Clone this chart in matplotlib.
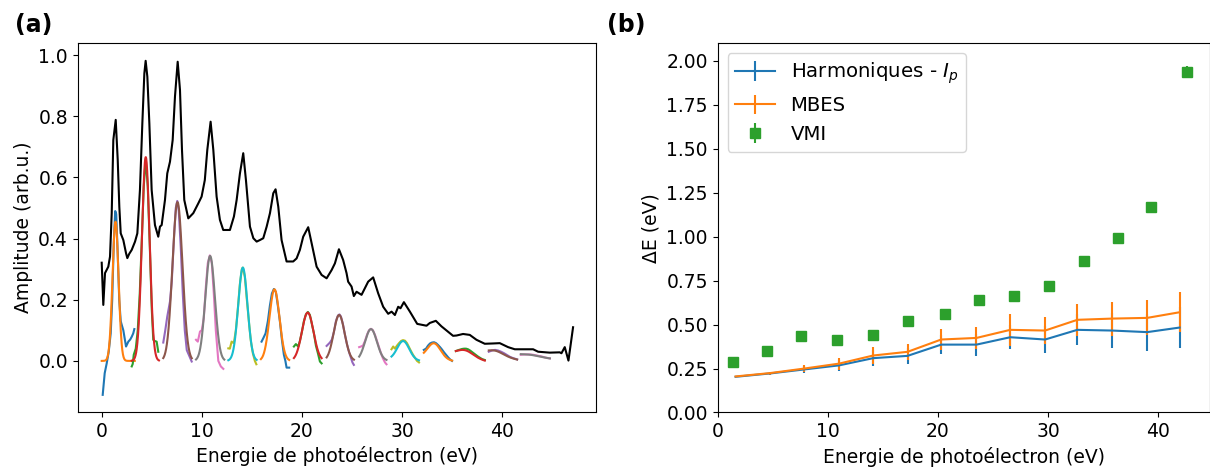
import numpy as np
import matplotlib.pyplot as plt

plt.rcParams["font.size"] = 13.5

# ---------------- (a) full spectrum ----------------
spec_e = [0.0, 0.16, 0.33, 0.66, 0.83, 1.0, 1.16, 1.40, 1.6, 1.76,
          1.9, 2.16, 2.43, 2.56, 2.75, 3.0, 3.33, 3.56, 3.82, 4.06,
          4.26, 4.39, 4.56, 4.76, 4.99, 5.32, 5.65, 5.82, 5.99, 6.32,
          6.55, 6.82, 7.09, 7.32, 7.59, 7.82, 8.02, 8.25, 8.65, 9.15,
          9.65, 9.98, 10.3, 10.55, 10.88, 11.15, 11.48, 11.81, 12.14, 12.81,
          13.21, 13.48, 13.81, 14.14, 14.41, 14.81, 15.15, 15.48, 15.8, 16.14,
          16.48, 16.81, 17.14, 17.37, 17.64, 17.97, 18.47, 19.13, 19.47, 19.8,
          20.13, 20.63, 20.97, 21.47, 21.97, 22.47, 22.97, 23.3, 23.7, 24.12,
          24.46, 24.62, 24.96, 25.19, 25.46, 25.96, 26.62, 27.12, 27.62, 28.12,
          28.62, 28.96, 29.29, 29.62, 29.85, 30.19, 30.79, 31.52, 32.45, 32.78,
          33.38, 33.94, 35.1, 35.45, 36.1, 36.77, 37.44, 38.27, 39.1, 39.77,
          40.6, 41.27, 43.1, 43.6, 44.76, 45.76, 45.93, 46.26, 46.63, 47.09]
spec_a = [0.321, 0.183, 0.287, 0.308, 0.341, 0.483, 0.722, 0.788, 0.657, 0.504,
          0.417, 0.395, 0.352, 0.336, 0.35, 0.363, 0.39, 0.417, 0.559, 0.777,
          0.94, 0.981, 0.929, 0.777, 0.559, 0.444, 0.406, 0.439, 0.444, 0.526,
          0.613, 0.651, 0.722, 0.864, 0.978, 0.886, 0.69, 0.526, 0.466, 0.483,
          0.515, 0.537, 0.591, 0.69, 0.782, 0.69, 0.537, 0.461, 0.428, 0.428,
          0.472, 0.526, 0.613, 0.679, 0.591, 0.439, 0.401, 0.39, 0.395, 0.401,
          0.439, 0.483, 0.548, 0.561, 0.504, 0.395, 0.325, 0.325, 0.335, 0.363,
          0.406, 0.437, 0.385, 0.308, 0.281, 0.27, 0.297, 0.319, 0.365, 0.33,
          0.287, 0.259, 0.243, 0.212, 0.226, 0.216, 0.259, 0.273, 0.221, 0.177,
          0.154, 0.161, 0.150, 0.177, 0.172, 0.192, 0.161, 0.121, 0.115, 0.124,
          0.131, 0.113, 0.082, 0.083, 0.088, 0.085, 0.069, 0.056, 0.057, 0.058,
          0.045, 0.038, 0.038, 0.030, 0.027, 0.028, 0.025, 0.045, 0.001, 0.110]

# background-subtracted harmonic peaks (one list per harmonic)
peak_e = [
    [0.1, 0.3, 0.5, 0.7, 0.9, 1.05, 1.2, 1.35, 1.45, 1.6, 1.75, 1.9, 2.0, 2.16, 2.43, 2.66, 2.85, 3.0, 3.15, 3.26],
    [3.0, 3.1, 3.2, 3.4, 3.6, 3.8, 4.0, 4.2, 4.4, 4.6, 4.8, 5.0, 5.15, 5.3, 5.49, 5.65],
    [6.15, 6.35, 6.55, 6.82, 7.0, 7.2, 7.4, 7.55, 7.7, 7.9, 8.1, 8.3, 8.5, 8.7, 8.99],
    [9.42, 9.6, 9.82, 10.0, 10.2, 10.4, 10.6, 10.8, 11.0, 11.2, 11.4, 11.65, 11.9, 12.15],
    [12.65, 12.8, 12.98, 13.2, 13.4, 13.6, 13.8, 14.0, 14.1, 14.3, 14.5, 14.7, 14.9, 15.1, 15.3, 15.45],
    [15.97, 16.14, 16.37, 16.6, 16.8, 17.0, 17.2, 17.4, 17.6, 17.8, 18.0, 18.2, 18.35, 18.47, 18.73],
    [19.2, 19.4, 19.63, 19.8, 20.0, 20.2, 20.4, 20.6, 20.8, 21.0, 21.2, 21.4, 21.6, 21.8, 21.97],
    [22.47, 22.65, 22.8, 23.0, 23.2, 23.4, 23.6, 23.75, 23.9, 24.1, 24.3, 24.5, 24.7, 24.9, 25.05, 25.19],
    [25.72, 25.9, 26.1, 26.3, 26.5, 26.7, 26.9, 27.1, 27.3, 27.5, 27.7, 27.9, 28.1, 28.3, 28.45],
    [28.95, 29.12, 29.3, 29.5, 29.7, 29.9, 30.1, 30.3, 30.5, 30.7, 30.9, 31.1, 31.3, 31.5, 31.7],
    [32.18, 32.4, 32.6, 32.8, 33.0, 33.2, 33.4, 33.6, 33.8, 34.0, 34.2, 34.4, 34.6, 34.8, 35.0],
    [35.38, 35.6, 35.8, 36.0, 36.2, 36.4, 36.6, 36.8, 37.0, 37.2, 37.4, 37.6, 37.8, 38.0, 38.27],
    [38.67, 39.0, 39.3, 39.6, 39.9, 40.2, 40.5, 40.8, 41.1, 41.5],
    [41.87, 42.2, 42.5, 42.8, 43.1, 43.4, 43.7, 44.0, 44.3, 44.77],
]
peak_a = [
    [-0.111, -0.04, -0.008, 0.03, 0.09, 0.2, 0.38, 0.49, 0.48, 0.35, 0.2, 0.13, 0.118, 0.10, 0.047, 0.063, 0.07, 0.079, 0.09, 0.104],
    [-0.018, -0.01, 0.02, 0.04, 0.1, 0.22, 0.39, 0.57, 0.66, 0.57, 0.38, 0.17, 0.069, 0.065, 0.063, 0.03],
    [0.06, 0.1, 0.145, 0.194, 0.26, 0.39, 0.5, 0.523, 0.49, 0.37, 0.22, 0.1, 0.035, 0.02, -0.002],
    [0.069, 0.063, 0.096, 0.1, 0.14, 0.24, 0.32, 0.345, 0.32, 0.22, 0.1, 0.0, -0.018, -0.026],
    [0.041, 0.04, 0.063, 0.058, 0.1, 0.17, 0.25, 0.30, 0.305, 0.275, 0.2, 0.13, 0.065, 0.025, 0.0, -0.011],
    [0.063, 0.074, 0.09, 0.13, 0.18, 0.22, 0.235, 0.225, 0.18, 0.13, 0.07, 0.02, 0.0, -0.022, -0.022],
    [0.047, 0.055, 0.047, 0.065, 0.095, 0.13, 0.152, 0.16, 0.15, 0.12, 0.09, 0.05, 0.025, -0.002, -0.008],
    [0.049, 0.055, 0.06, 0.07, 0.095, 0.13, 0.148, 0.152, 0.145, 0.12, 0.085, 0.055, 0.03, 0.01, -0.005, -0.013],
    [0.045, 0.047, 0.05, 0.065, 0.085, 0.1, 0.105, 0.1, 0.085, 0.065, 0.045, 0.025, 0.008, -0.005, -0.011],
    [0.038, 0.047, 0.04, 0.05, 0.058, 0.065, 0.068, 0.066, 0.058, 0.045, 0.032, 0.02, 0.01, 0.0, -0.005],
    [0.036, 0.04, 0.05, 0.057, 0.06, 0.061, 0.058, 0.052, 0.045, 0.037, 0.028, 0.02, 0.012, 0.005, 0.0],
    [0.032, 0.035, 0.037, 0.039, 0.04, 0.04, 0.038, 0.034, 0.029, 0.024, 0.019, 0.014, 0.01, 0.006, 0.003],
    [0.03, 0.034, 0.036, 0.034, 0.03, 0.025, 0.019, 0.013, 0.009, 0.005],
    [0.02, 0.021, 0.021, 0.021, 0.02, 0.018, 0.016, 0.014, 0.011, 0.008],
]

# gaussian fit parameters of each harmonic
fit_center = [1.38, 4.40, 7.57, 10.83, 14.10, 17.26, 20.58, 23.72, 26.90, 30.12, 33.20, 36.30, 39.30, 42.80]
fit_amp = [0.455, 0.666, 0.519, 0.343, 0.305, 0.234, 0.158, 0.150, 0.104, 0.062, 0.050, 0.020, 0.014, 0.004]
fit_sigma = [0.30, 0.38, 0.50, 0.48, 0.46, 0.50, 0.58, 0.55, 0.59, 0.60, 0.65, 0.80, 0.80, 0.80]
fit_bg_lo = [0, 0, 0, 0, 0, 0, 0, 0, 0, 0.005, 0.012, 0.022, 0.024, 0.020]
fit_bg_hi = [0, 0, 0, 0, 0, 0, 0, 0, 0, 0, 0, 0, 0.004, 0.008]
fit_lo = [0.0, 3.0, 6.15, 9.42, 12.65, 15.9, 19.2, 22.47, 25.72, 28.95, 32.18, 35.38, 38.67, 41.87]
fit_hi = [3.3, 5.72, 9.0, 12.25, 15.48, 18.73, 21.97, 25.2, 28.45, 31.7, 35.0, 38.27, 41.5, 44.77]

# ---------------- (b) energy resolution ----------------
e_harm = [1.63, 4.75, 7.88, 11.03, 14.12, 17.24, 20.3, 23.5, 26.57, 29.73, 32.66, 35.82, 39.0, 41.94]
dE_harm = [0.203, 0.222, 0.245, 0.268, 0.309, 0.322, 0.386, 0.386, 0.428, 0.415, 0.47, 0.466, 0.457, 0.483]
err_harm = [0.004, 0.008, 0.018, 0.03, 0.044, 0.047, 0.055, 0.062, 0.068, 0.076, 0.089, 0.098, 0.105, 0.117]
dE_mbes = [0.205, 0.224, 0.25, 0.278, 0.324, 0.345, 0.415, 0.424, 0.47, 0.466, 0.527, 0.534, 0.538, 0.57]
err_mbes = [0.004, 0.008, 0.02, 0.034, 0.046, 0.045, 0.057, 0.062, 0.09, 0.077, 0.09, 0.097, 0.10, 0.114]
e_vmi = [1.42, 4.45, 7.57, 10.8, 14.1, 17.27, 20.6, 23.75, 26.94, 30.12, 33.24, 36.33, 39.36, 42.6]
dE_vmi = [0.286, 0.347, 0.437, 0.413, 0.44, 0.519, 0.561, 0.639, 0.665, 0.72, 0.859, 0.994, 1.167, 1.9375]
err_vmi = [0.01, 0.01, 0.01, 0.01, 0.01, 0.01, 0.01, 0.01, 0.01, 0.01, 0.01, 0.01, 0.01, 0.035]


def gauss_fit(i):
    x = np.linspace(fit_lo[i], fit_hi[i], 200)
    bg = fit_bg_lo[i] + (fit_bg_hi[i] - fit_bg_lo[i]) * (x - fit_lo[i]) / (fit_hi[i] - fit_lo[i])
    y = fit_amp[i] * np.exp(-(x - fit_center[i]) ** 2 / (2 * fit_sigma[i] ** 2)) + bg
    return x, y


fig = plt.figure(figsize=(12.1, 4.68), dpi=100)
ax1 = fig.add_axes([0.0642, 0.1197, 0.4281, 0.7876])
ax2 = fig.add_axes([0.5931, 0.1186, 0.4065, 0.7891])

ax1.plot(spec_e, spec_a, color="k", lw=1.5)
for i in range(len(peak_e)):
    ax1.plot(peak_e[i], peak_a[i], lw=1.5)
    xf, yf = gauss_fit(i)
    ax1.plot(xf, yf, lw=1.5)

ax1.set_xlim(-2.4, 49.35)
ax1.set_ylim(-0.167, 1.038)
ax1.set_xticks([0, 10, 20, 30, 40])
ax1.set_yticks([0.0, 0.2, 0.4, 0.6, 0.8, 1.0])
ax1.set_xlabel("Energie de photoélectron (eV)")
ax1.set_ylabel("Amplitude (arb.u.)")

ax2.errorbar(e_harm, dE_harm, yerr=err_harm, color="C0", label="Harmoniques - $I_p$")
ax2.errorbar(e_harm, dE_mbes, yerr=err_mbes, color="C1", label="MBES")
ax2.errorbar(e_vmi, dE_vmi, yerr=err_vmi, fmt="s", color="C2", ms=6.5, label="VMI")
ax2.set_xlim(0, 44.66)
ax2.set_ylim(0, 2.1)
ax2.set_xticks([0, 10, 20, 30, 40])
ax2.set_yticks([0, 0.25, 0.5, 0.75, 1.0, 1.25, 1.5, 1.75, 2.0])
ax2.yaxis.set_major_formatter(plt.FormatStrFormatter("%.2f"))
ax2.set_xlabel("Energie de photoélectron (eV)")
ax2.set_ylabel("ΔE (eV)")
ax2.legend(loc="upper left", fontsize=14.2)

fig.text(15 / 1210, 1 - 32 / 468, "(a)", fontsize=17, fontweight="bold", va="baseline")
fig.text(607 / 1210, 1 - 32 / 468, "(b)", fontsize=17, fontweight="bold", va="baseline")

fig.savefig("out.png", dpi=100)
